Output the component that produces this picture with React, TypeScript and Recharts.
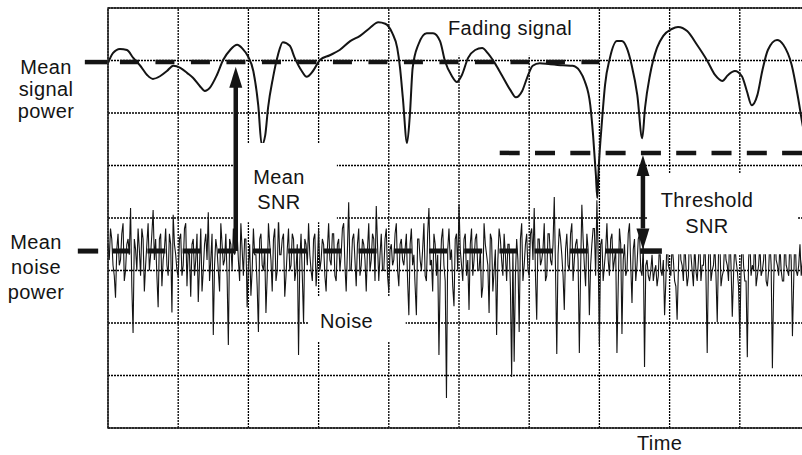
import {
  LineChart,
  Line,
  XAxis,
  YAxis,
  ReferenceLine,
  ReferenceArea,
  ReferenceDot,
} from "recharts";

// =============================================================================
// Fading signal vs. noise — time on x (grid divisions), power on y (divisions)
// =============================================================================

const X_TICKS = [0, 1, 2, 3, 4, 5, 6, 7, 8, 9, 10];
const Y_TICKS = [0, 1, 2, 3, 4, 5, 6, 7, 8];

const SIGNAL_T = [
  0, 0.07, 0.17, 0.27, 0.36, 0.46, 0.56, 0.64, 0.74, 0.84, 0.93, 1.03, 1.13, 1.21,
  1.31, 1.38, 1.45, 1.55, 1.64, 1.74, 1.84, 1.92, 1.99, 2.07, 2.14, 2.19, 2.24, 2.28,
  2.35, 2.42, 2.49, 2.59, 2.66, 2.76, 2.83, 2.92, 3.02, 3.16, 3.3, 3.45, 3.59, 3.73,
  3.85, 3.95, 4.05, 4.12, 4.16, 4.2, 4.26, 4.3, 4.34, 4.42, 4.54, 4.63, 4.73, 4.8,
  4.9, 4.97, 5.04, 5.13, 5.23, 5.33, 5.41, 5.51, 5.61, 5.73, 5.81, 5.9, 5.97, 6.05,
  6.15, 6.3, 6.48, 6.62, 6.72, 6.79, 6.87, 6.91, 6.95, 6.97, 6.99, 7.04, 7.08, 7.15,
  7.25, 7.32, 7.39, 7.46, 7.54, 7.61, 7.65, 7.72, 7.82, 7.91, 8.03, 8.12, 8.25, 8.39,
  8.53, 8.65, 8.75, 8.83, 8.93, 9.03, 9.1, 9.17, 9.25, 9.32, 9.4, 9.53, 9.62, 9.74,
  9.83, 9.89, 10,
];

const SIGNAL_V = [
  6.95, 7.14, 7.22, 7.2, 7.05, 6.9, 6.72, 6.65, 6.7, 6.8, 6.9, 6.86, 6.76, 6.67,
  6.51, 6.42, 6.48, 6.72, 7.01, 7.2, 7.3, 7.22, 7.09, 6.8, 6.15, 5.39, 5.58, 6.1,
  6.67, 7.1, 7.35, 7.28, 7.05, 6.8, 6.69, 6.8, 7.01, 7.1, 7.2, 7.37, 7.47, 7.62,
  7.73, 7.7, 7.52, 7.24, 6.86, 6.29, 5.43, 5.96, 6.86, 7.3, 7.52, 7.52, 7.37, 6.99,
  6.7, 6.59, 6.72, 7.05, 7.2, 7.24, 7.14, 6.95, 6.72, 6.44, 6.3, 6.42, 6.67, 6.9,
  6.95, 6.93, 6.91, 6.9, 6.8, 6.61, 6.15, 5.58, 4.82, 4.38, 4.95, 5.9, 6.53, 7.05,
  7.37, 7.37, 7.24, 6.91, 6.34, 5.52, 6.1, 6.72, 7.24, 7.47, 7.6, 7.64, 7.56, 7.3,
  7.01, 6.72, 6.61, 6.72, 6.8, 6.7, 6.42, 6.15, 6.34, 6.8, 7.2, 7.39, 7.3, 6.91,
  6.29, 5.81, 5.1,
];

// noise, even samples (carry the big spikes)
const NOISE_V = [
  3.5, 3.8, 3.1, 2.48, 3.7, 3.2, 3.9, 3.0, 3.6, 4.19, 1.81, 3.4, 3.8, 2.9, 3.6, 3.1, 3.9, 3.3, 4.15, 3.6,
  2.3, 3.7, 3.2, 3.8, 2.9, 3.5, 4.06, 3.3, 2.88, 3.7, 3.1, 3.9, 3.4, 2.5, 3.6, 3.2, 2.4, 3.8, 3.0, 3.7,
  4.11, 3.2, 1.77, 3.6, 3.0, 3.9, 3.1, 3.7, 1.58, 3.5, 3.8, 4.3, 3.2, 3.9, 2.9, 3.6, 3.1, 2.52, 3.8, 3.3,
  1.83, 3.7, 3.0, 2.19, 3.9, 3.2, 3.6, 2.8, 4.0, 3.3, 3.7, 2.9, 3.8, 3.1, 3.6, 3.0, 1.39, 3.7, 2.0, 3.5,
  3.9, 3.0, 3.6, 2.7, 3.8, 3.2, 3.5, 2.6, 3.9, 3.1, 3.7, 2.8, 3.6, 3.3, 3.9, 2.6, 4.3, 3.0, 3.7, 2.7,
  3.8, 3.1, 3.5, 2.6, 3.9, 3.2, 3.6, 4.23, 2.8, 3.7, 3.0, 3.8, 2.6, 3.5, 3.2, 3.9, 2.7, 3.6, 3.1, 3.7,
  2.15, 3.8, 3.3, 2.15, 3.6, 3.0, 3.9, 2.8, 4.19, 3.2, 3.7, 2.9, 1.39, 3.6, 3.1, 0.57, 3.8, 3.4, 2.32, 3.7,
  4.25, 3.1, 3.6, 2.9, 2.25, 3.8, 3.2, 3.7, 3.0, 2.48, 3.9, 3.3, 2.19, 3.6, 3.0, 1.77, 3.8, 3.2, 3.7, 2.8,
  3.5, 0.97, 1.26, 3.6, 1.83, 3.9, 3.1, 3.7, 2.9, 3.8, 4.19, 2.06, 3.6, 3.2, 3.9, 2.9, 3.7, 3.1, 4.4, 1.41,
  3.8, 3.3, 2.25, 3.7, 3.0, 3.9, 3.2, 3.6, 1.43, 4.25, 3.1, 3.7, 2.15, 3.5, 3.8, 4.34, 1.58, 3.6, 3.1, 3.9,
  2.9, 3.7, 3.2, 1.43, 3.8, 1.79, 3.5, 3.0, 3.9, 2.38, 3.6, 3.1, 3.7, 2.9, 1.16, 3.2, 2.8, 3.3, 3.0, 2.7,
  3.6, 2.9, 2.15, 3.7, 3.0, 3.5, 2.8, 2.06, 3.8, 3.1, 3.6, 2.7, 3.9, 3.0, 3.5, 2.8, 3.7, 3.1, 3.6, 1.43,
  3.8, 3.0, 3.5, 2.02, 3.7, 2.9, 3.6, 3.1, 3.8, 2.12, 3.5, 3.0, 1.71, 3.7, 2.8, 1.35, 3.6, 3.1, 3.8, 2.9,
  3.5, 3.0, 3.7, 2.7, 3.6, 1.14, 3.8, 3.1, 3.5, 2.8, 3.7, 3.0, 3.6, 1.75, 3.8, 2.9, 3.5, 3.2,
];

// noise, odd samples (the dense band around the mean)
const NOISE_W = [
  3.2, 3.6, 2.9, 3.4, 3.1, 3.7, 2.8, 3.5, 3.3, 2.7, 3.6, 3.0, 3.4, 3.8, 2.6, 3.5, 3.0, 3.7, 3.2, 2.9,
  3.6, 2.7, 3.4, 3.1, 3.7, 2.2, 3.5, 3.0, 3.6, 2.9, 3.8, 2.7, 3.3, 3.5, 2.9, 3.7, 3.1, 2.6, 3.5, 3.2,
  2.8, 3.7, 3.1, 3.4, 2.6, 3.5, 3.2, 2.9, 3.6, 3.0, 3.3, 3.7, 2.8, 3.4, 3.6, 2.3, 3.5, 3.0, 3.3, 2.7,
  3.6, 3.1, 3.4, 2.9, 3.5, 2.6, 3.8, 3.0, 3.3, 3.6, 2.5, 3.4, 3.0, 3.7, 2.8, 3.5, 3.2, 2.9, 3.6, 3.1,
  3.3, 2.8, 3.7, 3.1, 3.0, 3.6, 2.9, 3.4, 3.2, 3.7, 2.9, 3.5, 3.0, 3.8, 3.1, 3.4, 3.0, 3.6, 3.2, 3.5,
  2.9, 3.6, 3.2, 3.4, 3.0, 3.7, 2.8, 3.5, 3.3, 3.0, 3.6, 2.9, 3.4, 3.1, 3.7, 3.0, 3.5, 3.2, 3.4, 2.8,
  3.5, 3.1, 2.7, 3.6, 3.2, 3.4, 2.9, 3.7, 3.1, 2.6, 3.5, 3.3, 2.9, 3.8, 2.8, 3.4, 3.2, 2.7, 3.6, 3.0,
  3.4, 2.8, 3.7, 3.2, 3.5, 2.9, 3.6, 3.0, 3.4, 2.7, 3.5, 3.1, 3.7, 2.6, 3.4, 3.2, 3.6, 2.9, 3.3, 3.5,
  2.7, 3.4, 2.9, 3.2, 3.6, 2.8, 3.5, 3.0, 3.7, 3.2, 2.9, 3.6, 3.1, 3.4, 2.8, 3.7, 3.2, 3.5, 3.0, 3.3,
  3.6, 2.9, 3.4, 3.1, 3.7, 2.8, 3.5, 3.2, 3.0, 3.6, 2.7, 3.4, 3.1, 3.8, 2.9, 3.3, 3.5, 2.8, 3.4, 3.2,
  3.6, 3.0, 3.4, 2.7, 3.5, 3.2, 2.9, 3.7, 3.1, 3.4, 2.8, 3.6, 3.0, 3.5, 3.1, 2.9, 3.0, 2.8, 3.1, 2.9,
  3.0, 3.2, 2.8, 3.1, 2.9, 3.2, 2.7, 3.0, 3.2, 2.8, 3.1, 2.9, 3.3, 2.7, 3.0, 3.2, 2.8, 3.1, 2.9, 3.2,
  2.8, 3.1, 2.9, 3.3, 2.7, 3.0, 3.2, 2.8, 3.1, 2.9, 3.2, 2.7, 3.0, 3.1, 2.8, 3.2, 2.9, 3.0, 2.7, 3.1,
  2.9, 3.2, 2.8, 3.0, 3.1, 2.7, 3.2, 2.9, 3.0, 2.8, 3.1, 2.9, 3.2, 2.8, 3.0, 3.1, 2.9, 3.0,
];
const NOISE_SLOTS = 560;

const MEAN_SIGNAL = 6.97;
const THRESHOLD = 5.24;
const MEAN_NOISE = 3.37;
const SNR_ARROW_T = 1.82;
const THRESH_ARROW_T = 7.62;

const INK = "#141414";
const GRID = "#000";
const FONT = '"Liberation Sans", Arial, Helvetica, sans-serif';

const signalData = SIGNAL_T.map((t, i) => ({ t, v: SIGNAL_V[i] }));
const noiseData = NOISE_V.flatMap((v, i) => [
  { n: 2 * i, v },
  { n: 2 * i + 1, v: NOISE_W[i] },
]);

// arrowhead drawn with its tip on the reference point
const head = (dir: 1 | -1) => (p: any) => {
  const { cx, cy } = p;
  return (
    <polygon
      points={`${cx},${cy} ${cx - 6.5},${cy + dir * 21} ${cx + 6.5},${cy + dir * 21}`}
      fill={INK}
    />
  );
};

function Txt({
  x,
  y,
  lines,
  lh = 24,
  align = "center",
}: {
  x: number;
  y: number;
  lines: string[];
  lh?: number;
  align?: "center" | "left";
}) {
  const top = y - ((lh - 23) / 2 + 18.1);
  const pos =
    align === "center"
      ? { left: x - 100, width: 200, textAlign: "center" as const }
      : { left: x };
  return (
    <div
      style={{
        position: "absolute",
        top,
        ...pos,
        fontFamily: FONT,
        fontSize: 20,
        letterSpacing: 0.4,
        lineHeight: `${lh}px`,
        color: INK,
        whiteSpace: "nowrap",
      }}
    >
      {lines.map((l) => (
        <div key={l}>{l}</div>
      ))}
    </div>
  );
}

export default function App() {
  return (
    <div
      style={{
        position: "absolute",
        left: 0,
        top: 0,
        width: 802,
        height: 455,
        overflow: "hidden",
        background: "#fff",
      }}
    >
      <LineChart width={812} height={455} margin={{ top: 8, right: 2, bottom: 27, left: 108 }}>
        <XAxis
          type="number"
          dataKey="t"
          domain={[0, 10]}
          ticks={X_TICKS}
          tick={false}
          tickLine={false}
          axisLine={false}
          height={0}
        />
        <XAxis xAxisId="n" type="number" dataKey="n" domain={[0, NOISE_SLOTS]} hide height={0} />
        <YAxis
          type="number"
          domain={[0, 8]}
          ticks={Y_TICKS}
          tick={false}
          tickLine={false}
          axisLine={false}
          width={0}
        />

        {/* dotted grid */}
        {X_TICKS.map((t) => (
          <ReferenceLine key={`gx${t}`} x={t} stroke={GRID} strokeWidth={1.3} strokeDasharray="2 1" zIndex={10} />
        ))}
        {Y_TICKS.map((v) => (
          <ReferenceLine key={`gy${v}`} y={v} stroke={GRID} strokeWidth={1.3} strokeDasharray="2 1" zIndex={10} />
        ))}

        {/* white box behind "Fading signal" */}
        <ReferenceArea x1={4.73} x2={6.86} y1={7.09} y2={7.98} fill="#fff" fillOpacity={1} stroke="none" zIndex={50} />

        <Line
          xAxisId="n"
          data={noiseData}
          dataKey="v"
          type="linear"
          stroke={INK}
          strokeWidth={1.1}
          dot={false}
          activeDot={false}
          isAnimationActive={false}
          zIndex={300}
        />
        <Line
          data={signalData}
          dataKey="v"
          type="monotone"
          stroke={INK}
          strokeWidth={2}
          dot={false}
          activeDot={false}
          isAnimationActive={false}
          zIndex={400}
        />

        {/* mean signal power */}
        <ReferenceLine
          segment={[{ x: -0.33, y: MEAN_SIGNAL }, { x: -0.01, y: MEAN_SIGNAL }]}
          stroke={INK}
          strokeWidth={4.5}
          ifOverflow="visible"
          zIndex={410}
        />
        <ReferenceLine
          segment={[{ x: 0.17, y: MEAN_SIGNAL }, { x: 7.0, y: MEAN_SIGNAL }]}
          stroke={INK}
          strokeWidth={4.5}
          strokeDasharray="19 16.5"
          ifOverflow="visible"
          zIndex={410}
        />
        {/* threshold */}
        <ReferenceLine
          segment={[{ x: 5.58, y: THRESHOLD }, { x: 10, y: THRESHOLD }]}
          stroke={INK}
          strokeWidth={4.5}
          strokeDasharray="20 15.3"
          ifOverflow="visible"
          zIndex={410}
        />
        {/* mean noise power */}
        <ReferenceLine
          segment={[{ x: -0.43, y: MEAN_NOISE }, { x: -0.14, y: MEAN_NOISE }]}
          stroke={INK}
          strokeWidth={5}
          ifOverflow="visible"
          zIndex={410}
        />
        <ReferenceLine
          segment={[{ x: 0.06, y: MEAN_NOISE }, { x: 7.58, y: MEAN_NOISE }]}
          stroke={INK}
          strokeWidth={5}
          strokeDasharray="18 17.2"
          ifOverflow="visible"
          zIndex={410}
        />

        {/* label boxes */}
        <ReferenceArea x1={1.78} x2={3.26} y1={3.92} y2={5.43} fill="#fff" fillOpacity={1} stroke="none" zIndex={420} />
        <ReferenceArea x1={2.85} x2={4.24} y1={1.64} y2={2.5} fill="#fff" fillOpacity={1} stroke="none" zIndex={420} />
        <ReferenceArea x1={7.69} x2={9.83} y1={3.31} y2={4.84} fill="#fff" fillOpacity={1} stroke="none" zIndex={420} />

        {/* plot frame */}
        <ReferenceArea x1={0} x2={10} y1={0} y2={8} fill="none" stroke="#222" strokeWidth={1.5} zIndex={430} />

        {/* mean SNR arrow */}
        <ReferenceLine
          segment={[{ x: SNR_ARROW_T, y: MEAN_NOISE }, { x: SNR_ARROW_T, y: 6.5 }]}
          stroke={INK}
          strokeWidth={4.5}
          zIndex={500}
        />
        <ReferenceDot x={SNR_ARROW_T} y={6.88} r={1} shape={head(1)} zIndex={500} />

        {/* threshold SNR arrow */}
        <ReferenceLine
          segment={[{ x: THRESH_ARROW_T, y: 3.8 }, { x: THRESH_ARROW_T, y: 4.8 }]}
          stroke={INK}
          strokeWidth={4.5}
          zIndex={500}
        />
        <ReferenceDot x={THRESH_ARROW_T} y={5.2} r={1} shape={head(1)} zIndex={500} />
        <ReferenceDot x={THRESH_ARROW_T} y={3.4} r={1} shape={head(-1)} zIndex={500} />
        <ReferenceLine
          segment={[{ x: 7.58, y: MEAN_NOISE }, { x: 7.89, y: MEAN_NOISE }]}
          stroke={INK}
          strokeWidth={5.5}
          zIndex={500}
        />
      </LineChart>

      <Txt x={46} y={74} lines={["Mean", "signal", "power"]} lh={22} />
      <Txt x={36} y={249} lines={["Mean", "noise", "power"]} lh={25} />
      <Txt x={279} y={184} lines={["Mean", "SNR"]} lh={25} />
      <Txt x={707} y={207} lines={["Threshold", "SNR"]} lh={26} />
      <Txt x={320} y={328} lines={["Noise"]} align="left" />
      <Txt x={448} y={35} lines={["Fading signal"]} align="left" />
      <Txt x={637} y={450} lines={["Time"]} align="left" />
    </div>
  );
}
